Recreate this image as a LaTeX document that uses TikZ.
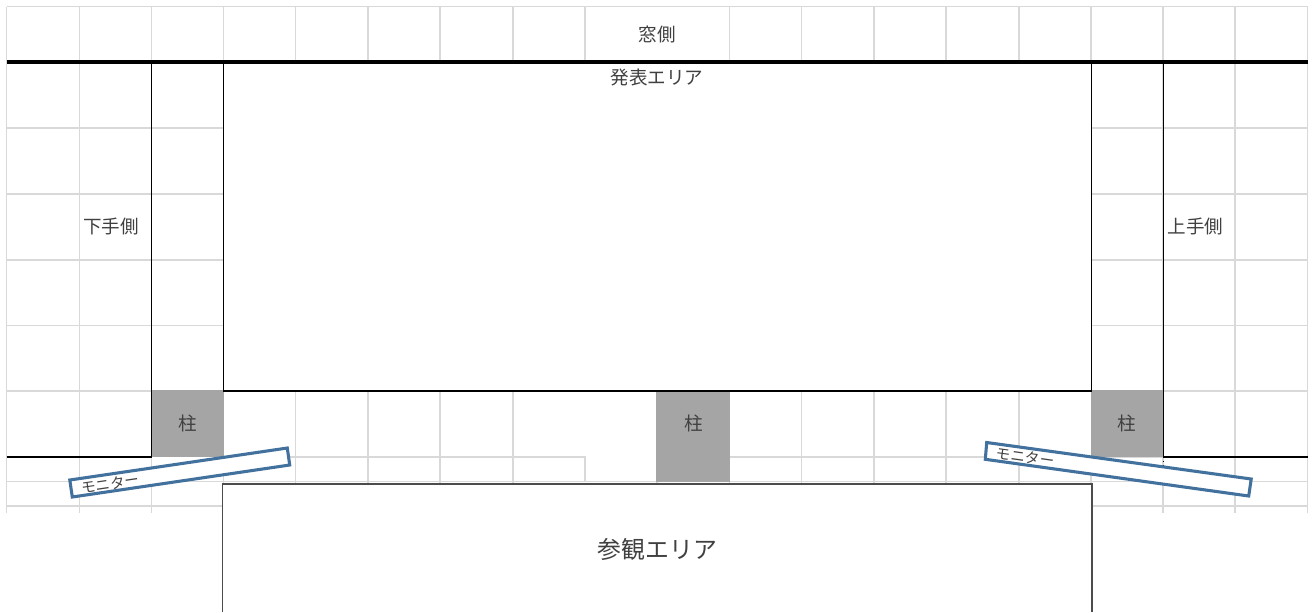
\documentclass[tikz,border=0pt]{standalone}
\usepackage{fontspec}
\setmainfont{Noto Sans CJK JP}
\definecolor{gridc}{HTML}{D9D9D9}
\definecolor{txt}{HTML}{404040}
\definecolor{mon}{HTML}{41719C}
\definecolor{pillar}{HTML}{A5A5A5}
\tikzset{
 gridl/.style={draw=gridc,line width=1pt},
 wall/.style={draw=black,line width=0.95pt},
 lbl/.style={text=txt,font=\fontsize{13.9pt}{15pt}\selectfont,inner sep=0pt},
 monbox/.style={draw=mon,fill=white,line width=2.3pt,line join=miter},
 monlbl/.style={text=txt,font=\fontsize{10.9pt}{12pt}\selectfont,inner sep=0pt},
}
\begin{document}
\begin{tikzpicture}[x=0.75pt,y=-0.75pt]
\useasboundingbox (0,0) rectangle (1312,612);
\fill[white] (0,0) rectangle (1312,612);
% grid: top band
\foreach \x in {6.5,79.5,151.5,223.5,295.5,368,440,513,585,729.5,801.5,874,946,1019,1091,1163,1235,1307.5}
  \draw[gridl] (\x,6.5) -- (\x,62);
\draw[gridl] (6.5,6.5) -- (1307.5,6.5);
% grid: sides
\foreach \x in {6.5,79.5,151.5,223.5,1091,1163,1235,1307.5}
  \draw[gridl] (\x,62) -- (\x,391);
\foreach \y in {128,194,260,325.5,391}{
  \draw[gridl] (6.5,\y) -- (223.5,\y);
  \draw[gridl] (1091,\y) -- (1307.5,\y);
}
% grid: lower band
\foreach \x in {6.5,79.5,295.5,368,440,513,801.5,874,946,1019,1235,1307.5}
  \draw[gridl] (\x,391) -- (\x,457);
\draw[gridl] (223.5,457) -- (585,457) -- (585,482);
\draw[gridl] (729.5,457) -- (1307.5,457);
\draw[gridl] (6.5,457) -- (151.5,457);
\draw[gridl] (6.5,481.5) -- (1307.5,481.5);
\draw[gridl] (6.5,506) -- (222.5,506);
\draw[gridl] (1092,506) -- (1307.5,506);
\foreach \x in {6.5,79.5,151.5,1163,1235,1307.5}
  \draw[gridl] (\x,457) -- (\x,513);
\foreach \x in {223.5,295.5,368,440,513,657,729.5,801.5,874,946,1019,1091}
  \draw[gridl] (\x,457) -- (\x,483);
% pillars
\fill[pillar] (151.5,390) rectangle (224,457);
\fill[pillar] (656,391) rectangle (730,481.5);
\fill[pillar] (1090.5,390) rectangle (1163.5,457);
% walls
\draw[wall] (6.5,457) -- (151.5,457) -- (151.5,62);
\draw[wall] (1163.5,62) -- (1163.5,457) -- (1307.5,457);
\draw[wall,dotted,line width=0.6pt] (1163.5,457) -- (1163.5,466);
\fill[white] (224,62.5) rectangle (1091,390.5);
\draw[wall] (223.5,62) rectangle (1091.5,391);
\draw[draw=black,line width=2.3pt] (6.5,62) -- (1307.5,62);
% viewing area
\fill[white] (222.5,484) rectangle (1092,612);
\draw[draw=black!70,line width=1.1pt] (222.5,612) -- (222.5,484) -- (1092,484) -- (1092,612);
% monitors
\draw[monbox] (69.8,480) -- (287.3,448) -- (289.7,465) -- (72.3,497) -- cycle;
\draw[monbox] (986.7,442.5) -- (1251.2,479) -- (1248.7,496) -- (985.3,459.3) -- cycle;
\node[monlbl,rotate=8.4] (m1) at (110.5,483.5) {モニター};
\node[monlbl,rotate=-7.9] (m2) at (1025.5,457) {モニター};
% labels
\node[lbl] (window) at (657.5,34.7) {窓側};
\node[lbl] (stage) at (657,77.7) {発表エリア};
\node[lbl] (left) at (111,226.7) {下手側};
\node[lbl] (right) at (1195.5,226.7) {上手側};
\node[lbl] (c1) at (187.5,423.3) {柱};
\node[lbl] (c2) at (693.5,423.3) {柱};
\node[lbl] (c3) at (1127,423.3) {柱};
\node[lbl,font=\fontsize{17.9pt}{20pt}\selectfont] (aud) at (657.5,549.5) {参観エリア};
\end{tikzpicture}
\end{document}
